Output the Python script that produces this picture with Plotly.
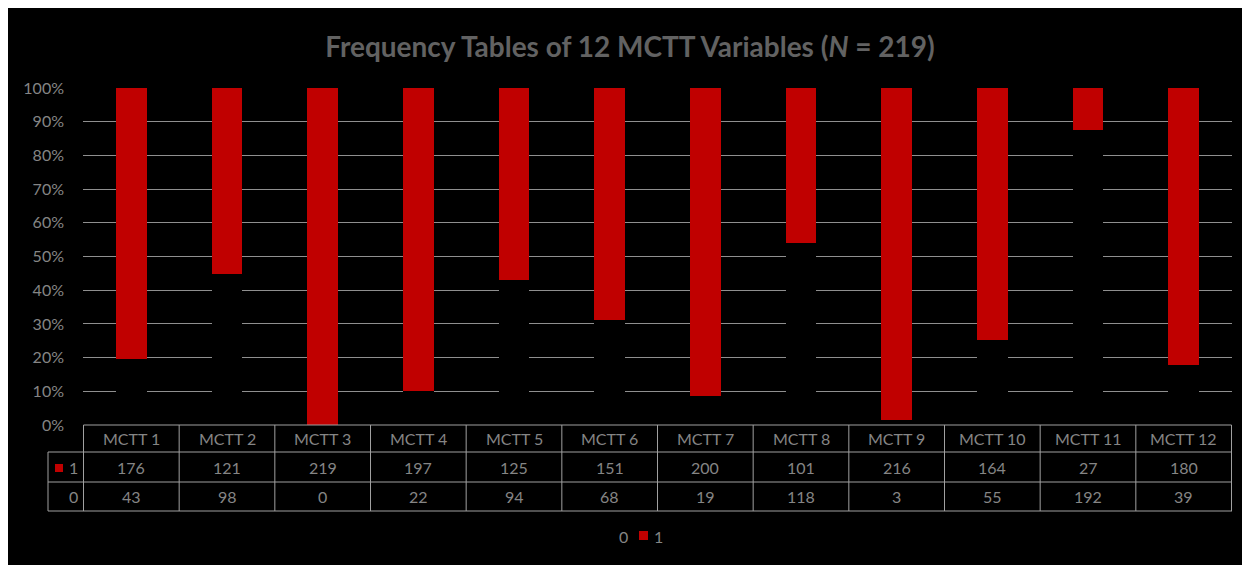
import plotly.graph_objects as go

categories = ["MCTT 1", "MCTT 2", "MCTT 3", "MCTT 4", "MCTT 5", "MCTT 6",
              "MCTT 7", "MCTT 8", "MCTT 9", "MCTT 10", "MCTT 11", "MCTT 12"]
count_1 = [176, 121, 219, 197, 125, 151, 200, 101, 216, 164, 27, 180]
count_0 = [43, 98, 0, 22, 94, 68, 19, 118, 3, 55, 192, 39]
N = 219
tick_vals = [0, 10, 20, 30, 40, 50, 60, 70, 80, 90, 100]
tick_text = [f"{v}%" for v in tick_vals]

pct_0 = [v / N * 100 for v in count_0]
pct_1 = [v / N * 100 for v in count_1]

W, H = 1250, 565
OFF = 8  # page margin offset of the figure in the screenshot
L, R, T, B = 83 - OFF, 1250 - (1232 - OFF), 88 - OFF, 565 - (425 - OFF)
PW = W - L - R
PH = H - T - B


def px(p):
    return (p - OFF - L) / PW


def py(p):
    return (H - B - (p - OFF)) / PH


RED = "#C00000"
TXT = "#858585"
LINE = "#a0a0a0"
FONT = "Lato"

fig = go.Figure()
fig.add_trace(go.Bar(x=categories, y=pct_0, name="0", marker=dict(color="#000000", line=dict(width=0))))
fig.add_trace(go.Bar(x=categories, y=pct_1, name="1", marker=dict(color=RED, line=dict(width=0))))

shapes = []
y_top, y_h, y_r1, y_r0 = 425, 452, 482, 511
x_left = 48
n = len(categories)
shapes.append(dict(type="line", xref="x", yref="paper", x0=-0.5, x1=n - 0.5, y0=py(y_top), y1=py(y_top),
                   line=dict(color=LINE, width=1)))
for yy in (y_h, y_r1, y_r0):
    shapes.append(dict(type="line", xref="paper", yref="paper", x0=px(x_left), x1=1, y0=py(yy), y1=py(yy),
                       line=dict(color=LINE, width=1)))
for k in range(n + 1):
    shapes.append(dict(type="line", xref="x", yref="paper", x0=k - 0.5, x1=k - 0.5, y0=py(y_top), y1=py(y_r0),
                       line=dict(color=LINE, width=1)))
shapes.append(dict(type="line", xref="paper", yref="paper", x0=px(x_left), x1=px(x_left), y0=py(y_h), y1=py(y_r0),
                   line=dict(color=LINE, width=1)))
shapes.append(dict(type="rect", xref="paper", yref="paper", x0=px(55), x1=px(63), y0=py(472), y1=py(464),
                   fillcolor=RED, line=dict(width=0)))

annotations = []
tf = dict(family=FONT, size=16, color=TXT)
for i, c in enumerate(categories):
    annotations.append(dict(x=c, y=py((y_top + y_h) / 2), xref="x", yref="paper", text=c, showarrow=False,
                            font=tf, xanchor="center", yanchor="middle"))
    annotations.append(dict(x=c, y=py((y_h + y_r1) / 2), xref="x", yref="paper", text=str(count_1[i]),
                            showarrow=False, font=tf, xanchor="center", yanchor="middle"))
    annotations.append(dict(x=c, y=py((y_r1 + y_r0) / 2), xref="x", yref="paper", text=str(count_0[i]),
                            showarrow=False, font=tf, xanchor="center", yanchor="middle"))
annotations.append(dict(x=px(80), y=py((y_h + y_r1) / 2), xref="paper", yref="paper", text="1", showarrow=False,
                        font=tf, xanchor="right", yanchor="middle"))
annotations.append(dict(x=px(80), y=py((y_r1 + y_r0) / 2), xref="paper", yref="paper", text="0", showarrow=False,
                        font=tf, xanchor="right", yanchor="middle"))

# bottom legend
annotations.append(dict(x=px(630), y=py(536), xref="paper", yref="paper", text="0", showarrow=False,
                        font=tf, xanchor="right", yanchor="middle"))
shapes.append(dict(type="rect", xref="paper", yref="paper", x0=px(639), x1=px(648), y0=py(540), y1=py(531),
                   fillcolor=RED, line=dict(width=0)))
annotations.append(dict(x=px(652), y=py(536), xref="paper", yref="paper", text="1", showarrow=False,
                        font=tf, xanchor="left", yanchor="middle"))

fig.update_layout(
    width=W, height=H,
    margin=dict(l=L, r=R, t=T, b=B, pad=0),
    paper_bgcolor="#000000",
    plot_bgcolor="#000000",
    barmode="stack",
    bargap=0.68,
    showlegend=False,
    title=dict(text="Frequency Tables of 12 MCTT Variables (<i>N</i> = 219)",
               x=px(630), xanchor="center", xref="paper", y=1 - (47 - OFF) / H, yanchor="middle",
               font=dict(family=FONT, size=28, color="#626262", weight="bold")),
    xaxis=dict(showticklabels=False, showgrid=False, zeroline=False, showline=False, ticks=""),
    yaxis=dict(range=[0, 100], tickvals=tick_vals, ticktext=tick_text, showgrid=True,
               gridcolor="#8f8f8f", gridwidth=1, zeroline=False, showline=False, ticks="",
               ticklabelstandoff=18, tickfont=dict(family=FONT, size=16, color=TXT)),
    shapes=shapes,
    annotations=annotations,
)

fig.write_html("out.html")
